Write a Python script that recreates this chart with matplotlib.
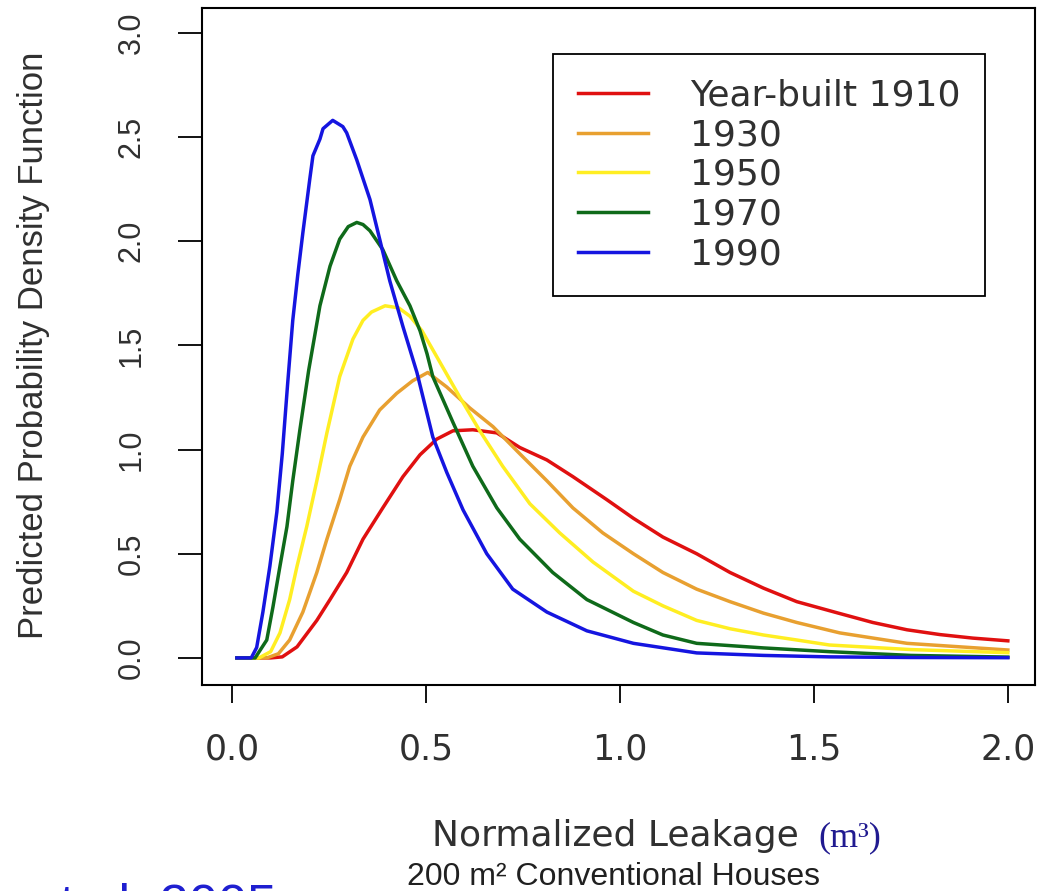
import matplotlib.pyplot as plt

# values
x_1910 = [0.013, 0.10, 0.13, 0.168, 0.219, 0.253, 0.296, 0.338, 0.389, 0.441, 0.485, 0.528, 0.57, 0.621,
          0.683, 0.742, 0.812, 0.879, 0.966, 1.035, 1.111, 1.198, 1.284, 1.37, 1.456, 1.563, 1.652, 1.74,
          1.825, 1.91, 2.0]
y_1910 = [0, 0, 0.005, 0.053, 0.18, 0.28, 0.41, 0.57, 0.72, 0.87, 0.975, 1.05, 1.09, 1.095,
          1.08, 1.01, 0.95, 0.87, 0.76, 0.67, 0.58, 0.50, 0.41, 0.335, 0.27, 0.215, 0.17, 0.135,
          0.112, 0.095, 0.082]

x_1930 = [0.013, 0.09, 0.12, 0.149, 0.183, 0.219, 0.245, 0.278, 0.304, 0.338, 0.381, 0.425, 0.466, 0.505,
          0.554, 0.613, 0.673, 0.742, 0.812, 0.879, 0.956, 1.035, 1.111, 1.198, 1.284, 1.37, 1.456, 1.567,
          1.74, 2.0]
y_1930 = [0, 0, 0.02, 0.086, 0.22, 0.41, 0.57, 0.76, 0.92, 1.06, 1.19, 1.27, 1.33, 1.37,
          1.30, 1.20, 1.11, 0.98, 0.85, 0.72, 0.60, 0.50, 0.41, 0.33, 0.27, 0.215, 0.17, 0.12,
          0.07, 0.038]

x_1950 = [0.013, 0.07, 0.10, 0.124, 0.149, 0.168, 0.193, 0.219, 0.245, 0.278, 0.312, 0.338, 0.36, 0.395,
          0.43, 0.459, 0.49, 0.536, 0.588, 0.639, 0.698, 0.768, 0.845, 0.931, 1.035, 1.111, 1.198, 1.284,
          1.37, 1.456, 1.54, 1.75, 2.0]
y_1950 = [0, 0, 0.03, 0.12, 0.28, 0.44, 0.63, 0.85, 1.08, 1.35, 1.53, 1.62, 1.66, 1.69,
          1.68, 1.64, 1.57, 1.42, 1.25, 1.09, 0.92, 0.74, 0.60, 0.46, 0.32, 0.25, 0.18, 0.14,
          0.11, 0.086, 0.062, 0.04, 0.025]

x_1970 = [0.013, 0.06, 0.09, 0.106, 0.124, 0.142, 0.157, 0.175, 0.198, 0.227, 0.253, 0.278, 0.30, 0.322,
          0.338, 0.356, 0.389, 0.425, 0.459, 0.485, 0.503, 0.518, 0.57, 0.621, 0.683, 0.742, 0.827, 0.915,
          1.035, 1.111, 1.198, 1.37, 1.54, 1.75, 2.0]
y_1970 = [0, 0, 0.086, 0.245, 0.44, 0.63, 0.85, 1.09, 1.38, 1.69, 1.88, 2.01, 2.07, 2.09,
          2.08, 2.05, 1.96, 1.81, 1.69, 1.57, 1.46, 1.35, 1.13, 0.92, 0.72, 0.57, 0.41, 0.28,
          0.17, 0.11, 0.07, 0.048, 0.03, 0.012, 0.004]

x_1990 = [0.013, 0.05, 0.064, 0.08, 0.098, 0.116, 0.13, 0.144, 0.157, 0.17, 0.183, 0.201, 0.209, 0.227,
          0.235, 0.26, 0.286, 0.296, 0.322, 0.356, 0.381, 0.407, 0.441, 0.477, 0.518, 0.554, 0.596, 0.657,
          0.724, 0.812, 0.915, 1.035, 1.198, 1.37, 1.54, 1.75, 2.0]
y_1990 = [0, 0, 0.05, 0.22, 0.44, 0.70, 0.98, 1.32, 1.62, 1.84, 2.04, 2.30, 2.41, 2.49,
          2.54, 2.58, 2.55, 2.52, 2.39, 2.20, 2.01, 1.81, 1.59, 1.37, 1.06, 0.89, 0.71, 0.50,
          0.33, 0.22, 0.13, 0.07, 0.024, 0.012, 0.005, 0.002, 0.001]

labels = ['Year-built 1910', '1930', '1950', '1970', '1990']
colors = ['#e01010', '#e8a030', '#ffee22', '#0f6a1a', '#1515e0']
x_ticks = [0.0, 0.5, 1.0, 1.5, 2.0]
y_ticks = [0.0, 0.5, 1.0, 1.5, 2.0, 2.5, 3.0]

fig = plt.figure(figsize=(10.4, 8.91), dpi=100)
ax = fig.add_axes([0.1942, 0.2312, 0.801, 0.760])

series = [(x_1910, y_1910), (x_1930, y_1930), (x_1950, y_1950), (x_1970, y_1970), (x_1990, y_1990)]
for (xs, ys), lab, col in zip(series, labels, colors):
    ax.plot(xs, ys, color=col, lw=2.5, label=lab)

ax.set_xlim(-0.077, 2.07)
ax.set_ylim(-0.13, 3.12)
for s in ax.spines.values():
    s.set_linewidth(1.5)

ax.set_xticks(x_ticks, ['%.1f' % v for v in x_ticks])
ax.set_yticks(y_ticks, ['%.1f' % v for v in y_ticks])
ax.tick_params(axis='x', length=13, width=1.3, pad=21, labelsize=25, labelcolor='#303030',
               labelfontfamily='DejaVu Sans')
ax.tick_params(axis='y', length=17, width=1.3, pad=23, labelsize=22, labelcolor='#303030',
               labelfontfamily='Liberation Sans')
plt.setp(ax.get_yticklabels(), rotation=90, va='center', ha='right')

leg = ax.legend(loc='upper right', bbox_to_anchor=(0.94, 0.932), borderaxespad=0,
                prop={'family': 'DejaVu Sans', 'size': 26}, frameon=True, fancybox=False,
                framealpha=1, edgecolor='black', borderpad=0.68, labelspacing=0.16,
                handlelength=1.94, handletextpad=1.16)
leg.get_frame().set_linewidth(1.3)
for t in leg.get_texts():
    t.set_color('#303030')

fig.text(0.032, (891 - 345) / 891, 'Predicted Probability Density Function', rotation=90,
         ha='center', va='center', fontsize=25, family='Liberation Sans', color='#303030')
fig.text(432 / 1040, (891 - 846) / 891, 'Normalized Leakage', ha='left', va='baseline',
         fontsize=26, family='DejaVu Sans', color='#303030')
fig.text(818 / 1040, (891 - 846) / 891, '(m\u00b3)', ha='left', va='baseline',
         fontsize=26, family='Liberation Serif', color='#201a90')
fig.text(407 / 1040, (891 - 885) / 891, '200 m\u00b2 Conventional Houses', ha='left', va='baseline',
         fontsize=23, family='Liberation Sans', color='#202020')
fig.text(277 / 1040, (891 - 921) / 891, 'Chan et al. 2005', ha='right', va='baseline',
         fontsize=38, family='Liberation Sans', color='#1f1fd0')

fig.savefig('out.png', dpi=100)
